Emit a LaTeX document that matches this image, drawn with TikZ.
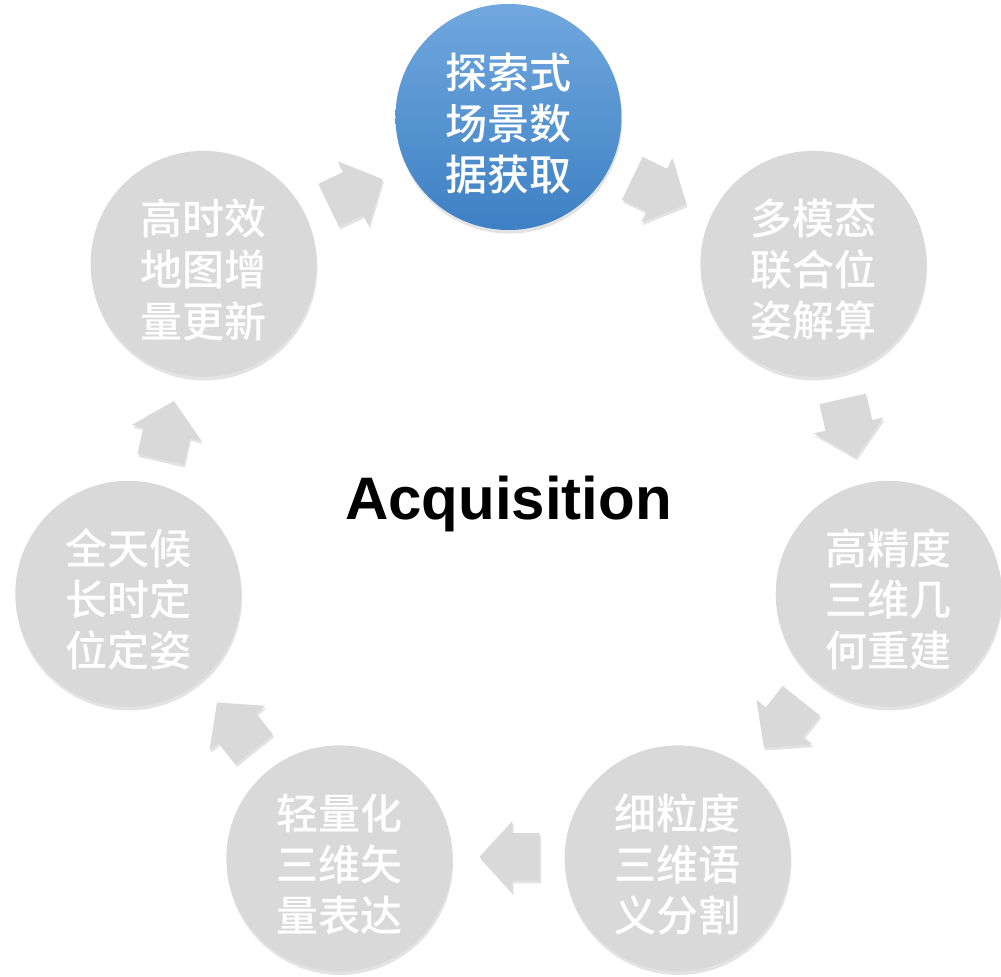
\documentclass[tikz,border=0pt]{standalone}
\usepackage{fontspec}
\newfontfamily\cjk{Noto Sans CJK SC}[UprightFont=* Medium, BoldFont=* Bold]
\newfontfamily\latin{Liberation Sans}
\definecolor{stgray}{RGB}{217,217,217}
\definecolor{sttop}{RGB}{112,168,222}
\definecolor{stbot}{RGB}{62,128,196}
\newcommand{\toprise}{\rule{0pt}{34pt}}
\usetikzlibrary{shapes.arrows,shadows}

\begin{document}
\begin{tikzpicture}[
  stage/.style={circle, minimum size=5.65cm, inner sep=0pt, fill=stgray, align=center, text=white, font=\cjk\fontsize{29.9}{36.3}\selectfont, drop shadow={opacity=0.22, shadow xshift=0.02cm, shadow yshift=-0.09cm}},
  start/.style={stage, top color=sttop, bottom color=stbot},
  turn/.style={single arrow, fill=stgray, inner xsep=0pt, inner ysep=0.5875cm, minimum height=1.5cm, single arrow head extend=0.3cm, single arrow tip angle=95, drop shadow={opacity=0.22, shadow xshift=0.03cm, shadow yshift=-0.07cm}}
]
  \useasboundingbox (-12.7125,-11.75) rectangle (12.3125,12.675);

  %% Stages of the cycle
  \node[start] (scan) at (90:9.75) {\toprise{}探索式\\场景数\\据获取};
  \node[stage] (pose) at (38.57:9.75) {\toprise{}多模态\\联合位\\姿解算};
  \node[stage] (geom) at (-12.86:9.75) {\toprise{}高精度\\三维几\\何重建};
  \node[stage] (sem) at (-64.29:9.75) {\toprise{}细粒度\\三维语\\义分割};
  \node[stage] (vec) at (-115.71:9.75) {\toprise{}轻量化\\三维矢\\量表达};
  \node[stage] (loc) at (-167.14:9.75) {\toprise{}全天候\\长时定\\位定姿};
  \node[stage] (upd) at (141.43:9.75) {\toprise{}高时效\\地图增\\量更新};

  %% Block arrows between stages (clockwise)
  \node[turn, rotate=-25.71] (a1) at (66.25:8.75) {};
  \node[turn, rotate=-77.14] (a2) at (14.82:8.75) {};
  \node[turn, rotate=-128.57] (a3) at (-36.61:8.75) {};
  \node[turn, rotate=180] (a4) at (-88.04:8.75) {};
  \node[turn, rotate=128.57] (a5) at (-139.47:8.75) {};
  \node[turn, rotate=77.14] (a6) at (169.1:8.75) {};
  \node[turn, rotate=25.71] (a7) at (117.67:8.75) {};

  %% Centre label
  \node[font=\latin\bfseries\fontsize{42.7}{50}\selectfont, anchor=base] (title) at (0,-0.325) {Acquisition};
\end{tikzpicture}
\end{document}
